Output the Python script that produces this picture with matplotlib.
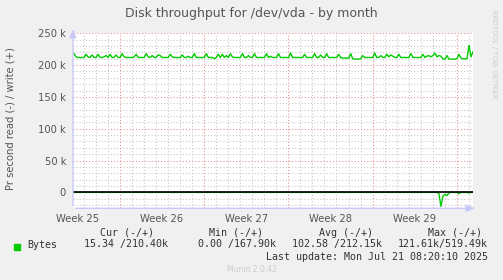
"""Munin style disk throughput graph for /dev/vda, month view."""

from datetime import datetime, timedelta

import matplotlib

matplotlib.use("Agg")

import matplotlib.dates as mdates
import matplotlib.pyplot as plt

# 4-hour averages, first sample at Jun 18 04:20, last at Jul 21 08:20 (kB/s)
write_k = [
    218, 213, 212, 212, 212, 212, 217, 213, 212, 216,
    212, 212, 217, 212, 212, 213, 215, 212, 217, 212,
    212, 216, 212, 212, 218, 213, 212, 212, 212, 212,
    213, 217, 212, 212, 212, 212, 218, 213, 212, 215,
    212, 212, 216, 215, 212, 212, 212, 212, 217, 213,
    212, 212, 212, 212, 216, 212, 212, 214, 212, 212,
    218, 212, 212, 212, 212, 212, 218, 212, 212, 212,
    210, 212, 217, 212, 217, 212, 215, 212, 218, 213,
    212, 212, 212, 212, 218, 212, 212, 215, 212, 212,
    218, 212, 212, 212, 212, 212, 218, 212, 214, 212,
    212, 212, 218, 212, 212, 212, 212, 212, 219, 212,
    212, 212, 212, 212, 212, 217, 212, 212, 212, 212,
    218, 212, 212, 216, 212, 212, 218, 212, 212, 212,
    212, 212, 217, 212, 211, 211, 211, 211, 218, 210,
    209.5, 209.5, 209.5, 210, 215, 212, 212, 212, 212, 212,
    219, 212, 212, 215, 212, 212, 217, 213, 216, 214,
    212, 212, 217, 212, 212, 212, 212, 212, 218, 212,
    212, 212, 212, 212, 217, 212, 214, 215, 213, 215,
    219, 213, 215, 214, 210, 209.5, 215, 209.5, 209.5, 209.5,
    209.5, 210, 217, 211, 210, 210, 210, 231, 213, 221,
]
read_k = [0] * 182 + [2, 22, 6, 3, 5, 1, 0, 0, 0, 0, 2, 0, 0, 0, 0, 1, 0, 0]

first_sample = datetime(2025, 6, 18, 4, 20)
step = timedelta(hours=4)
view_start = datetime(2025, 6, 18, 2, 20)
view_end = datetime(2025, 7, 21, 8, 20)

legend_name = "Bytes"
legend_head = ["Cur (-/+)", "Min (-/+)", "Avg (-/+)", "Max (-/+)"]
legend_vals = ["15.34 /210.40k", "0.00 /167.90k", "102.58 /212.15k", "121.61k/519.49k"]

W, H = 503, 280
TEXT = "#555555"
GREEN = "#00cc00"
MINOR = "#c4c4c4"
MAJOR = "#e88a8a"
AXIS = "#c8c8f8"


def fx(px):
    return px / W


def fy(py):
    return 1 - py / H


def main():
    times = [first_sample + i * step for i in range(len(write_k))]
    write = [v * 1000 for v in write_k]
    read = [-v * 1000 for v in read_k]

    fig = plt.figure(figsize=(W / 100, H / 100), dpi=100, facecolor="#f0f0f0")
    ax = fig.add_axes([fx(73), fy(208.3), fx(400), 175 / H])
    ax.set_facecolor("white")
    for spine in ax.spines.values():
        spine.set_visible(False)

    ax.set_xlim(view_start, view_end)
    ax.set_ylim(-25000, 250000)

    dot = (0, (1, 2))
    for y in range(-20000, 250001, 10000):
        major = y % 50000 == 0
        ax.axhline(y, color=MAJOR if major else MINOR, lw=0.75, ls=dot, zorder=1)
    day = datetime(2025, 6, 19)
    while day < view_end:
        sunday = day.weekday() == 6
        ax.axvline(day, color=MAJOR if sunday else MINOR, lw=0.75, ls=dot, zorder=1)
        day += timedelta(days=1)

    ax.plot(times, read, color=GREEN, lw=1, zorder=3)
    ax.plot(times, write, color=GREEN, lw=1, zorder=3)
    ax.axhline(0, color="black", lw=1.2, zorder=4)

    yt = [0, 50000, 100000, 150000, 200000, 250000]
    ax.set_yticks(yt)
    ax.set_yticklabels(["0"] + [f"{v // 1000} k" for v in yt[1:]])

    mids = []
    d = datetime(2025, 6, 18, 12, 0)
    while d < view_end:
        mids.append(d)
        d += timedelta(days=7)
    ax.set_xticks([mdates.date2num(m) for m in mids])
    ax.set_xticklabels([f"Week {m.isocalendar()[1]}" for m in mids])
    ax.tick_params(axis="both", length=0, colors=TEXT, labelsize=7.2)
    ax.tick_params(axis="y", pad=5)
    ax.tick_params(axis="x", pad=4)

    arrow = dict(arrowstyle="-|>,head_length=0.5,head_width=0.2", color=AXIS, lw=1)
    ax.annotate("", xy=(1.012, 0), xytext=(0, 0), xycoords="axes fraction",
                arrowprops=arrow, annotation_clip=False, zorder=5)
    ax.annotate("", xy=(0, 1.04), xytext=(0, 0), xycoords="axes fraction",
                arrowprops=arrow, annotation_clip=False, zorder=5)

    fig.text(fx(251), fy(13), "Disk throughput for /dev/vda - by month",
             ha="center", va="center", fontsize=9, color=TEXT)
    fig.text(fx(11), fy(119), "Pr second read (-) / write (+)", rotation=90,
             ha="center", va="center", fontsize=7.2, color=TEXT)
    fig.text(fx(494), fy(54), "RRDTOOL / TOBI OETIKER", rotation=270,
             ha="center", va="center", fontsize=5, color="#cccccc")

    mono = dict(family="DejaVu Sans Mono", fontsize=7.2, color="#333333", va="center")
    for x, head in zip([100, 209, 319, 428], legend_head):
        fig.text(fx(x), fy(232.5), head, ha="left", **mono)
    fig.patches.append(plt.Rectangle((fx(14), fy(249.5)), fx(6), 6 / H,
                                     transform=fig.transFigure, color=GREEN))
    fig.text(fx(27), fy(244.5), legend_name, ha="left", **mono)
    for x, val in zip([168, 276, 382, 488], legend_vals):
        fig.text(fx(x), fy(244.5), val, ha="right", **mono)
    fig.text(fx(488), fy(256.5), "Last update: Mon Jul 21 08:20:10 2025", ha="right", **mono)
    fig.text(fx(252), fy(269.5), "Munin 2.0.42", ha="center", va="center",
             fontsize=5.5, color="#cccccc")

    fig.savefig("out.png", dpi=100, facecolor=fig.get_facecolor())
    plt.close(fig)


if __name__ == "__main__":
    main()
